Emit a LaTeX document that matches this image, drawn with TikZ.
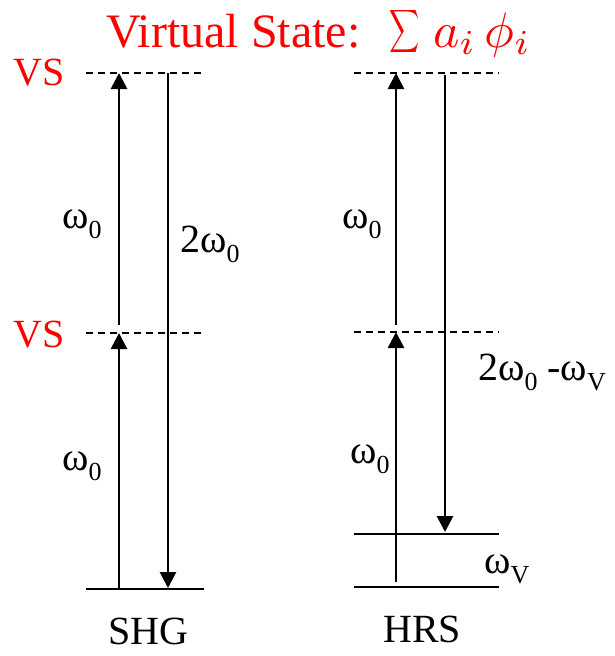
\documentclass[tikz,border=0pt]{standalone}
\usepackage{fontspec}
\setmainfont{Liberation Serif}
\usetikzlibrary{arrows.meta}
\newcommand\mysub[1]{\raisebox{-10pt}{\fontsize{26}{26}\selectfont #1}}
\begin{document}
\begin{tikzpicture}[x=1pt,y=-1pt,
  lvl/.style={line width=2.8pt},
  vlvl/.style={line width=1.6pt, dash pattern=on 7pt off 5pt},
  tr/.style={line width=2.8pt,-{Triangle[length=16pt,width=16pt]}},
  lab/.style={anchor=base west, inner sep=0pt, font=\fontsize{40}{40}\selectfont},
  redlab/.style={lab, text=red},
  mathlab/.style={anchor=base west, inner sep=0pt, text=red, font=\fontsize{10}{12}\selectfont}]
\useasboundingbox (0,0) rectangle (615,656);
% title
\node[redlab, font=\fontsize{48}{48}\selectfont] (title) at (106,47) {Virtual State:};
\node[mathlab] (sumsym) at (389,39) {\scalebox{2.1}[3.0]{$\displaystyle\sum$}};
\node[mathlab] (formula) at (433,47) {\scalebox{5}{$a_i\,\phi_i$}};
% left (SHG) levels
\coordinate (LT1) at (86,73);  \coordinate (LT2) at (204,73);
\coordinate (LM1) at (86,333); \coordinate (LM2) at (204,333);
\coordinate (LB1) at (86,589); \coordinate (LB2) at (204,589);
\draw[vlvl] (LT1) -- (LT2);
\draw[vlvl] (LM1) -- (LM2);
\draw[lvl] (LB1) -- (LB2);
\coordinate (La0) at (119,589); \coordinate (La1) at (119,333);
\coordinate (Lb0) at (119,325); \coordinate (Lb1) at (119,73);
\coordinate (Ld0) at (168,73);  \coordinate (Ld1) at (168,588);
\draw[tr] (La0) -- (La1);
\draw[tr] (Lb0) -- (Lb1);
\draw[tr] (Ld0) -- (Ld1);
% right (HRS) levels
\coordinate (RT1) at (354,73);  \coordinate (RT2) at (499,73);
\coordinate (RM1) at (354,332); \coordinate (RM2) at (499,332);
\coordinate (RU1) at (354,534); \coordinate (RU2) at (499,534);
\coordinate (RB1) at (354,587); \coordinate (RB2) at (499,587);
\draw[vlvl] (RT1) -- (RT2);
\draw[vlvl] (RM1) -- (RM2);
\draw[lvl] (RU1) -- (RU2);
\draw[lvl] (RB1) -- (RB2);
\coordinate (Ra0) at (396,582); \coordinate (Ra1) at (396,332);
\coordinate (Rb0) at (396,325); \coordinate (Rb1) at (396,73);
\coordinate (Rd0) at (445,75);  \coordinate (Rd1) at (445,532);
\draw[tr] (Ra0) -- (Ra1);
\draw[tr] (Rb0) -- (Rb1);
\draw[tr] (Rd0) -- (Rd1);
% labels
\node[redlab] (vs1) at (13,85) {VS};
\node[redlab] (vs2) at (13,347) {VS};
\node[lab] (w1) at (62,228) {ω\mysub{0}};
\node[lab] (w2) at (62,470) {ω\mysub{0}};
\node[lab] (w3) at (180,252) {2ω\mysub{0}};
\node[lab] (w4) at (342,228) {ω\mysub{0}};
\node[lab] (w5) at (350,463) {ω\mysub{0}};
\node[lab] (w6) at (478,380) {2ω\mysub{0} -ω\mysub{V}};
\node[lab] (w7) at (484,573) {ω\mysub{V}};
\node[lab] (shg) at (108,644) {SHG};
\node[lab] (hrs) at (383,642) {HRS};
\end{tikzpicture}
\end{document}
